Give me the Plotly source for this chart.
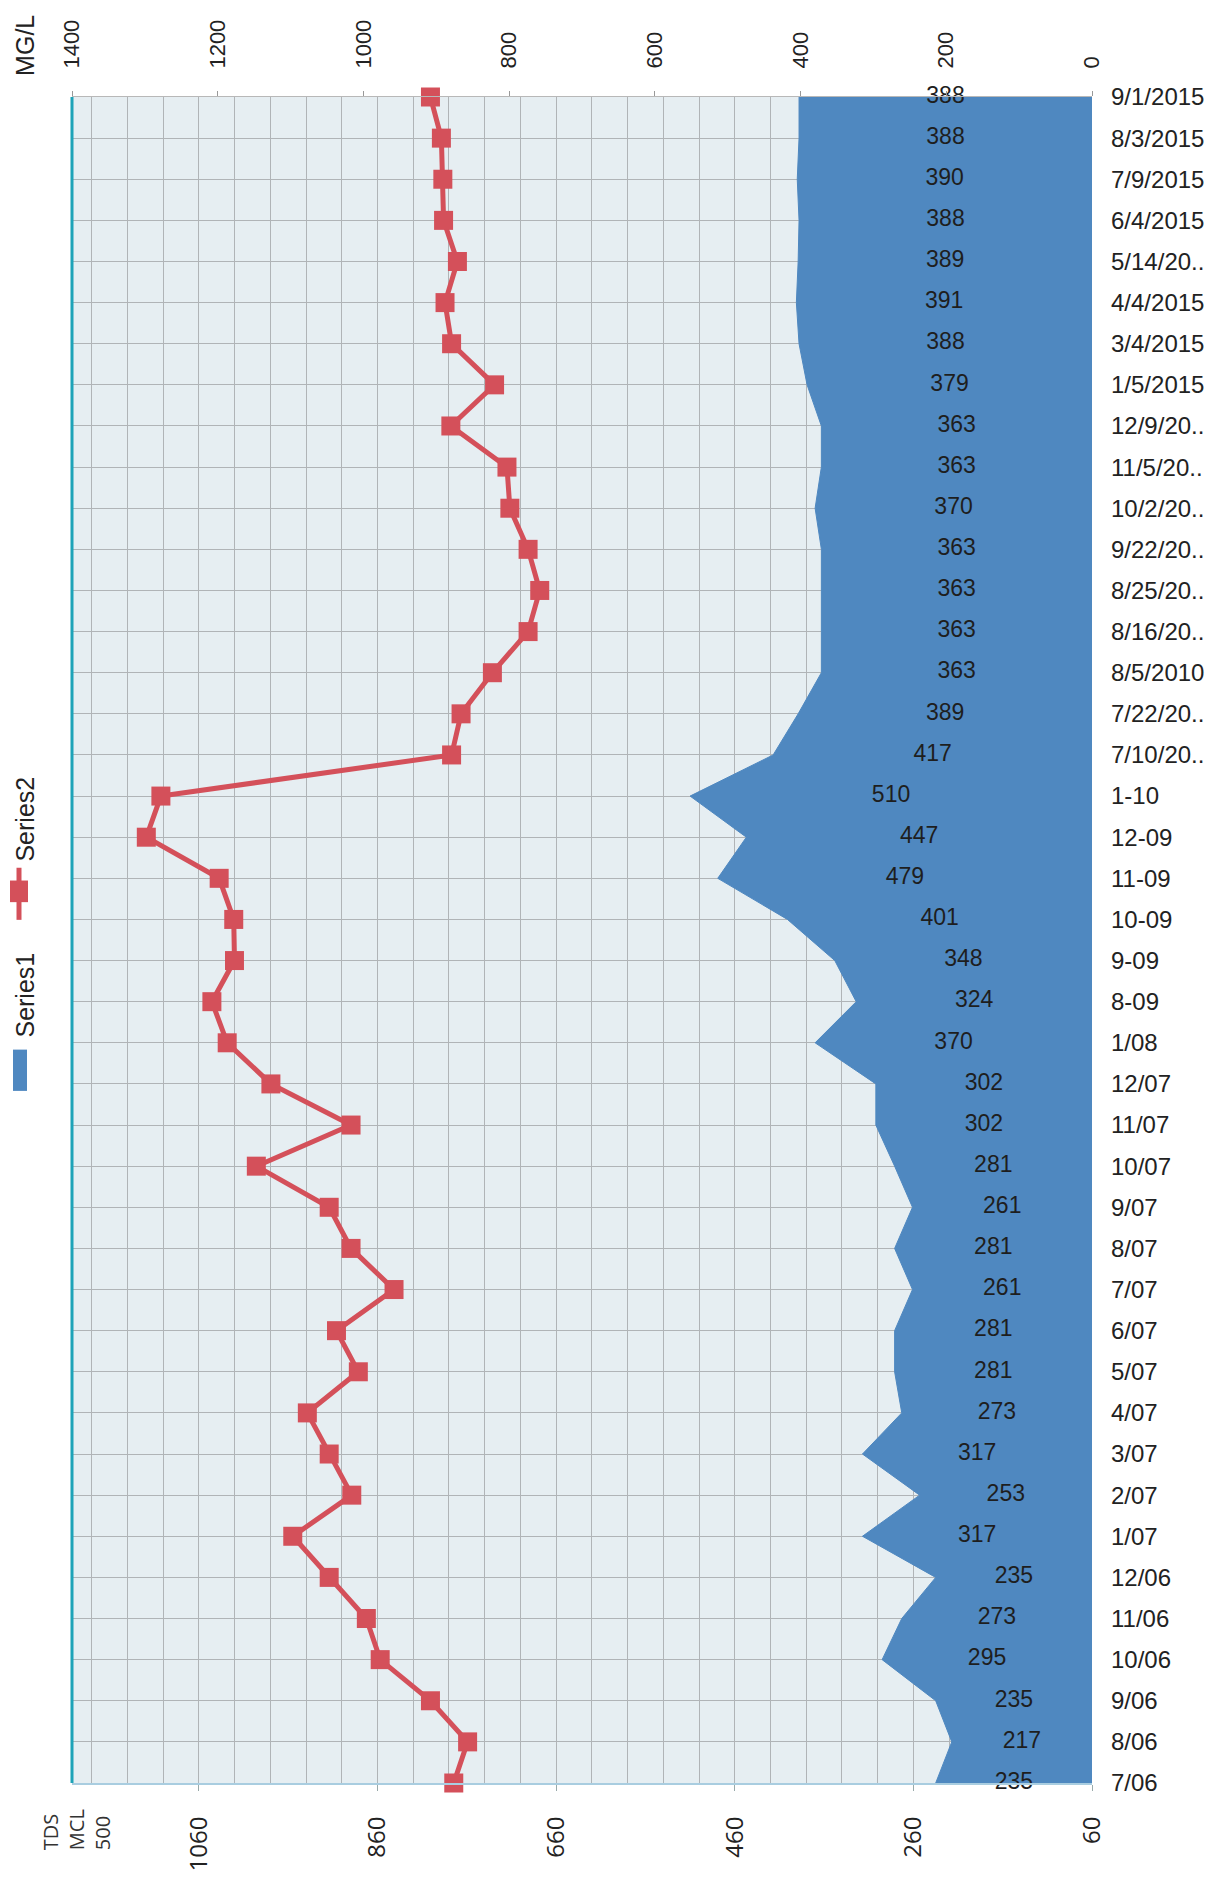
import plotly.graph_objects as go

# ---------------- data (bottom -> top of the chart) ----------------
categories = ["7/06", "8/06", "9/06", "10/06", "11/06", "12/06",
              "1/07", "2/07", "3/07", "4/07", "5/07", "6/07", "7/07", "8/07",
              "9/07", "10/07", "11/07", "12/07", "1/08",
              "8-09", "9-09", "10-09", "11-09", "12-09", "1-10",
              "7/10/20..", "7/22/20..", "8/5/2010", "8/16/20..", "8/25/20..",
              "9/22/20..", "10/2/20..", "11/5/20..", "12/9/20..",
              "1/5/2015", "3/4/2015", "4/4/2015", "5/14/20..", "6/4/2015",
              "7/9/2015", "8/3/2015", "9/1/2015"]

series1 = [235, 217, 235, 295, 273, 235, 317, 253, 317, 273, 281, 281, 261,
           281, 261, 281, 302, 302, 370, 324, 348, 401, 479, 447, 510, 417,
           389, 363, 363, 363, 363, 370, 363, 363, 379, 388, 391, 389, 388,
           390, 388, 388]

series2 = [876, 857, 908, 977, 996, 1047, 1097, 1016, 1047, 1077, 1007, 1037,
           958, 1017, 1047, 1147, 1017, 1127, 1187, 1208, 1177, 1178, 1198,
           1298, 1278, 879, 866, 823, 774, 758, 774, 799, 803, 880, 820, 879,
           888, 871, 890, 891, 893, 908]

bottom_ticks = [60, 260, 460, 660, 860, 1060]
top_ticks = [0, 200, 400, 600, 800, 1000, 1200, 1400]

# ---------------- styling ----------------
OFF = 8                      # page body margin
W, H = 1230 - OFF, 1883 - OFF
L, R, T, B = 72, 1092, 88, 1803   # plot box in page pixels
BLUE = "#4f88c0"
RED = "#d4505a"
GRID = "#b0b4b7"
PLOTBG = "#e6eef2"


def px(x):
    return (x - L) / (R - L)


def py(y):
    return (B - y) / (B - T)


fig = go.Figure()

# Series1 area (bottom axis, base 60)
fig.add_trace(go.Scatter(
    x=series1, y=categories, mode="lines", fill="tozerox",
    fillcolor=BLUE, line=dict(color=BLUE, width=1),
    xaxis="x", yaxis="y", name="Series1", showlegend=False,
    hoverinfo="x+y"))

# Data labels in the middle of the area span
label_x = [(60 + v) / 2 for v in series1]
fig.add_trace(go.Scatter(
    x=label_x, y=categories, mode="text", text=[str(v) for v in series1],
    textposition="middle center",
    textfont=dict(family="Liberation Sans, Arial", size=23, color="#1e1e1e"),
    cliponaxis=False, xaxis="x", yaxis="y", showlegend=False,
    hoverinfo="skip"))

# Series2 line (top axis)
fig.add_trace(go.Scatter(
    x=series2, y=categories, mode="lines+markers",
    line=dict(color=RED, width=5),
    marker=dict(symbol="square", size=19, color=RED),
    xaxis="x2", yaxis="y", name="Series2", showlegend=False,
    cliponaxis=False))

fig.update_layout(
    width=W, height=H, autosize=False,
    margin=dict(l=L - OFF, r=W - (R - OFF), t=T - OFF, b=H - (B - OFF)),
    paper_bgcolor="white", plot_bgcolor=PLOTBG,
    showlegend=False,
    xaxis=dict(
        range=[1202, 60], side="bottom",
        tickmode="linear", tick0=60, dtick=200,
        tickangle=-90, ticks="outside", ticklen=6, tickcolor="#9aa",
        ticklabelstandoff=16,
        tickfont=dict(family="Open Sans", size=24, color="#222"),
        showgrid=True, gridcolor=GRID, gridwidth=1,
        minor=dict(tick0=60, dtick=40, showgrid=True, gridcolor=GRID,
                   gridwidth=1),
        showline=True, linecolor="#a9cde0", linewidth=2,
        zeroline=False),
    xaxis2=dict(
        range=[1400, 0], overlaying="x", side="top", anchor="y",
        tickvals=top_ticks, tickangle=-90, ticks="outside", ticklen=5,
        tickcolor="#999", ticklabelstandoff=18,
        tickfont=dict(family="Liberation Sans, Arial", size=22, color="#222"),
        showgrid=False, zeroline=False,
        showline=True, linecolor="#b8b8b8", linewidth=1),
    yaxis=dict(
        type="category", categoryorder="array", categoryarray=categories,
        range=[0, len(categories) - 1], side="right",
        showgrid=True, gridcolor=GRID, gridwidth=1,
        ticks="", ticklabelstandoff=18,
        tickfont=dict(family="Liberation Sans, Arial", size=24, color="#222"),
        showline=False, zeroline=False),
)

shapes = [
    # teal left border
    dict(type="line", xref="paper", yref="paper", x0=0, x1=0, y0=0, y1=1,
         line=dict(color="#1fa3b8", width=3)),
    # legend key Series1
    dict(type="rect", xref="paper", yref="paper",
         x0=px(13), x1=px(27), y0=py(1099), y1=py(1057),
         fillcolor=BLUE, line=dict(width=0)),
    # legend key Series2
    dict(type="line", xref="paper", yref="paper",
         x0=px(19), x1=px(19), y0=py(925), y1=py(872),
         line=dict(color=RED, width=5)),
    dict(type="rect", xref="paper", yref="paper",
         x0=px(10), x1=px(28), y0=py(907), y1=py(885),
         fillcolor=RED, line=dict(width=0)),
]


def rot_label(text, x, y, size, family="Liberation Sans, Arial", color="#222",
              align="center"):
    return dict(text=text, xref="paper", yref="paper", x=px(x), y=py(y),
                xanchor="center", yanchor="middle", textangle=-90,
                showarrow=False, align=align,
                font=dict(family=family, size=size, color=color))


annotations = [
    rot_label("MG/L", 25, 36, 25),
    rot_label("Series1", 25, 1002, 25),
    rot_label("Series2", 25, 823, 25),
    rot_label("TDS<br>MCL<br>500", 76, 1851, 20, family="Open Sans",
              color="#333", align="left"),
]

fig.update_layout(shapes=shapes, annotations=annotations)

fig.write_html("out.html")
